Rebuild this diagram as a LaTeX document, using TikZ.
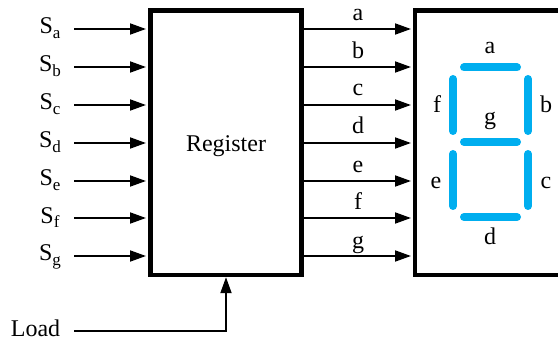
\documentclass[tikz,border=0pt]{standalone}
\usepackage{fontspec}
\setmainfont{Liberation Serif}
\usetikzlibrary{arrows.meta}
\definecolor{segblue}{HTML}{00AEEF}
\newcommand{\sigsub}[1]{\raisebox{-5pt}{\fontsize{17}{17}\selectfont #1}}
\begin{document}
\begin{tikzpicture}[x=1pt, y=-1pt, font=\fontsize{24}{28}\selectfont,
        wall/.style = {draw, line width=4.4pt, miter limit=10},
        sig/.style = {line width=1.8pt, -{Triangle[length=16pt,width=11pt]}},
        seg/.style = {draw=segblue, line width=8pt, line cap=round},
        txt/.style = {anchor=base, inner sep=0pt}]
        \useasboundingbox (0,0) rectangle (558,337);
        % register and display
        \node[wall, minimum width=151pt, minimum height=264.5pt, inner sep=0pt] (reg) at (226,142.75) {};
        \node[txt] (regtxt) at (226,151.5) {Register};
        \coordinate (dtr) at (558,10.5);
        \coordinate (dtl) at (415,10.5);
        \coordinate (dbl) at (415,275);
        \coordinate (dbr) at (558,275);
        \draw[wall] (dtr) -- (dtl) -- (dbl) -- (dbr);
        % inputs
        \node[txt] (sa) at (50,33.5) {S\sigsub{a}};
        \node[txt] (sb) at (50,71.5) {S\sigsub{b}};
        \node[txt] (sc) at (50,109.5) {S\sigsub{c}};
        \node[txt] (sd) at (50,147.5) {S\sigsub{d}};
        \node[txt] (se) at (50,185.5) {S\sigsub{e}};
        \node[txt] (sf) at (50,223) {S\sigsub{f}};
        \node[txt] (sg) at (50,261) {S\sigsub{g}};
        \node[txt] (load) at (35.5,336) {Load};
        \coordinate (ia) at (74,29);
        \coordinate (ib) at (74,67);
        \coordinate (ic) at (74,105);
        \coordinate (id) at (74,143);
        \coordinate (ie) at (74,181);
        \coordinate (if) at (74,218);
        \coordinate (ig) at (74,256);
        \coordinate (il) at (74,331);
        \draw[sig, shorten >=2.3pt] (ia) -- (ia -| reg.west);
        \draw[sig, shorten >=2.3pt] (ib) -- (ib -| reg.west);
        \draw[sig, shorten >=2.3pt] (ic) -- (ic -| reg.west);
        \draw[sig, shorten >=2.3pt] (id) -- (id -| reg.west);
        \draw[sig, shorten >=2.3pt] (ie) -- (ie -| reg.west);
        \draw[sig, shorten >=2.3pt] (if) -- (if -| reg.west);
        \draw[sig, shorten >=2.3pt] (ig) -- (ig -| reg.west);
        \draw[sig] (il) -| (reg.south);
        % outputs
        \coordinate (oa) at (411,29);
        \coordinate (ob) at (411,67);
        \coordinate (oc) at (411,105);
        \coordinate (od) at (411,143);
        \coordinate (oe) at (411,181);
        \coordinate (of) at (411,218);
        \coordinate (og) at (411,256);
        \draw[sig] (reg.east |- oa) -- (oa);
        \draw[sig] (reg.east |- ob) -- (ob);
        \draw[sig] (reg.east |- oc) -- (oc);
        \draw[sig] (reg.east |- od) -- (od);
        \draw[sig] (reg.east |- oe) -- (oe);
        \draw[sig] (reg.east |- of) -- (of);
        \draw[sig] (reg.east |- og) -- (og);
        \node[txt] (la) at (358,21) {a};
        \node[txt] (lb) at (358,58.5) {b};
        \node[txt] (lc) at (358,96) {c};
        \node[txt] (ld) at (358,134) {d};
        \node[txt] (le) at (358,172) {e};
        \node[txt] (lf) at (358,210) {f};
        \node[txt] (lg) at (358,248) {g};
        % segments
        \draw[seg] (464,67.5) -- (517,67.5);
        \draw[seg] (464,142) -- (517,142);
        \draw[seg] (464,217) -- (517,217);
        \draw[seg] (453,79) -- (453,131);
        \draw[seg] (528,79) -- (528,131);
        \draw[seg] (453,154) -- (453,206);
        \draw[seg] (528,154) -- (528,206);
        \node[txt] (da) at (490,53.5) {a};
        \node[txt] (db) at (546,113) {b};
        \node[txt] (dc) at (546,189) {c};
        \node[txt] (dd) at (490,244) {d};
        \node[txt] (de) at (436,189) {e};
        \node[txt] (df) at (437,113) {f};
        \node[txt] (dg) at (490,125) {g};
\end{tikzpicture}
\end{document}
